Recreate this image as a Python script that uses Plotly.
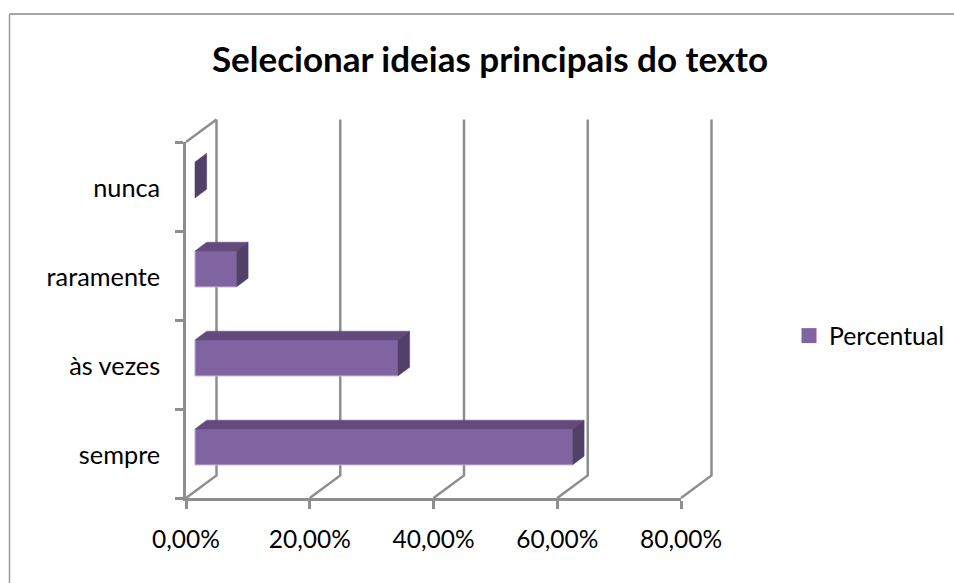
import plotly.graph_objects as go

W, H = 954, 583
categories = ["sempre", "às vezes", "raramente", "nunca"]
values = [0.61, 0.328, 0.067, 0.0]
x_ticks = [0.0, 0.2, 0.4, 0.6, 0.8]
series_name = "Percentual"
title = "Selecionar ideias principais do texto"

FRONT = "#8064A2"
TOP = "#624B7C"
SIDE = "#534069"
EDGE = "#C4B5D8"
GRID = "#8E8E8E"
FONT = "Lato, Carlito, sans-serif"
TEXT = "#000000"

# plot-box geometry in page pixels
L, R, T, B = 186, 681, 142, 498
xrange_ = [0, 0.8]
yrange_ = [-0.5, 3.5]
x_per_px = (xrange_[1] - xrange_[0]) / (R - L)
y_per_px = (yrange_[1] - yrange_[0]) / (B - T)

# a larger hidden subplot with the same scale holds the back walls
WL, WR, WT, WB = L - 6, R + 40, T - 32, B + 6
wide_x = [xrange_[0] - (L - WL) * x_per_px, xrange_[1] + (WR - R) * x_per_px]
wide_y = [yrange_[0] - (WB - B) * y_per_px, yrange_[1] + (T - WT) * y_per_px]

# 3D-effect depths expressed in axis units
wall_dx, wall_dy = 0.0493, 0.253
bar_off_x, bar_off_y = 0.0145, 0.073
bar_dx, bar_dy = 0.0189, 0.099
bar_h = 0.404
label_shift = -0.024

fig = go.Figure()

# walls / gridlines on the wide axes
for i, v in enumerate(x_ticks):
    xs = [v, v + wall_dx, v + wall_dx]
    ys = [yrange_[0], yrange_[0] + wall_dy, yrange_[1] + wall_dy]
    if i == 0:
        xs += [None, v, v + wall_dx]
        ys += [None, yrange_[1], yrange_[1] + wall_dy]
    fig.add_trace(go.Scatter(x=xs, y=ys, mode="lines", line=dict(color=GRID, width=2.5),
                             showlegend=False, hoverinfo="skip", xaxis="x", yaxis="y"))

def poly(xs, ys, color):
    fig.add_trace(go.Scatter(x=xs + xs[:1], y=ys + ys[:1], mode="lines", fill="toself",
                             fillcolor=color, line=dict(color=color, width=0.5),
                             showlegend=False, hoverinfo="skip", xaxis="x2", yaxis="y2"))

# front faces
fig.add_trace(go.Bar(x=values, y=[i + bar_off_y for i in range(len(values))],
                     base=bar_off_x, width=bar_h, orientation="h", name=series_name,
                     marker=dict(color=FRONT, line=dict(width=0)),
                     showlegend=False, xaxis="x2", yaxis="y2"))

# top and side faces, plus the light lower-left rim
for i, v in enumerate(values):
    x0 = bar_off_x
    x1 = x0 + v
    yb = i + bar_off_y - bar_h / 2
    yt = i + bar_off_y + bar_h / 2
    if v > 0:
        poly([x0, x1, x1 + bar_dx, x0 + bar_dx], [yt, yt, yt + bar_dy, yt + bar_dy], TOP)
    poly([x1, x1 + bar_dx, x1 + bar_dx, x1], [yb, yb + bar_dy, yt + bar_dy, yt], SIDE)
    if v > 0:
        fig.add_trace(go.Scatter(x=[x0, x0, x1], y=[yt, yb, yb], mode="lines",
                                 line=dict(color=EDGE, width=1),
                                 showlegend=False, hoverinfo="skip", xaxis="x2", yaxis="y2"))

# legend entry (15 px square swatch)
fig.add_trace(go.Scatter(x=[None], y=[None], mode="markers", name=series_name,
                         marker=dict(symbol="square", size=15, color=FRONT),
                         xaxis="x2", yaxis="y2"))

x_font = dict(family=FONT, size=24.5, color=TEXT)
y_font = dict(family=FONT, size=25.3, color=TEXT)
fig.update_layout(
    width=W, height=H, autosize=False,
    margin=dict(l=0, r=0, t=0, b=0, pad=0, autoexpand=False),
    paper_bgcolor="white", plot_bgcolor="rgba(0,0,0,0)",
    separators=",.",
    barmode="overlay",
    title=dict(text=f"<b>{title}</b>", x=490 / W, xanchor="center", xref="paper",
               y=1 - 60 / H, yanchor="middle", yref="paper",
               font=dict(family=FONT, size=35, color=TEXT)),
    xaxis=dict(domain=[WL / W, WR / W], range=wide_x, visible=False, anchor="y"),
    yaxis=dict(domain=[1 - WB / H, 1 - WT / H], range=wide_y, visible=False, anchor="x"),
    xaxis2=dict(domain=[L / W, R / W], range=xrange_, tickvals=x_ticks, tickformat=".2%",
                showgrid=False, zeroline=False, showline=True, linecolor=GRID, linewidth=2.5,
                ticks="outside", ticklen=8, tickcolor=GRID, tickwidth=2.5,
                ticklabelstandoff=10, tickfont=x_font, anchor="y2"),
    yaxis2=dict(domain=[1 - B / H, 1 - T / H], range=yrange_,
                tickvals=[i + label_shift for i in range(len(categories))],
                ticktext=categories, showgrid=False, zeroline=False, showline=True,
                linecolor=GRID, linewidth=2.5, ticks="", ticklabelstandoff=18, tickfont=y_font,
                minor=dict(tickvals=[-0.5, 0.5, 1.5, 2.5, 3.5], ticks="outside", ticklen=8,
                           tickcolor=GRID, tickwidth=2.5, showgrid=False),
                anchor="x2"),
    legend=dict(x=789 / W, xanchor="left", y=1 - 336 / H, yanchor="middle",
                font=dict(family=FONT, size=24.8, color=TEXT), bgcolor="rgba(0,0,0,0)",
                itemwidth=30),
    showlegend=True,
    shapes=[
        dict(type="line", xref="paper", yref="paper", x0=9.5 / W, x1=1, y0=1 - 14 / H, y1=1 - 14 / H,
             line=dict(color="#8A8A8A", width=1.5)),
        dict(type="line", xref="paper", yref="paper", x0=9.5 / W, x1=9.5 / W, y0=1 - 14 / H, y1=0,
             line=dict(color="#9A9A9A", width=1.5)),
    ],
)

fig.write_html("out.html", config={"displayModeBar": False},
               post_script="document.body.style.margin='0';")
